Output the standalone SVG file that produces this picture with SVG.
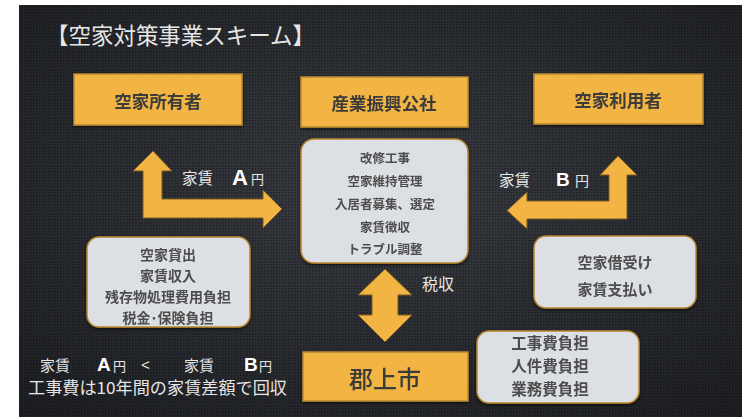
<svg xmlns="http://www.w3.org/2000/svg" width="742" height="417" viewBox="0 0 742 417">
<defs>
<radialGradient id="bg" cx="50%" cy="45%" r="70%">
<stop offset="0" stop-color="#3a3d43"/>
<stop offset="1" stop-color="#1e2024"/>
</radialGradient>
<pattern id="dots" width="3" height="3" patternUnits="userSpaceOnUse">
<rect x="0" y="0" width="1.5" height="1.5" fill="#000" fill-opacity="0.35"/>
</pattern>
<filter id="sh" x="-10%" y="-10%" width="120%" height="130%">
<feDropShadow dx="0" dy="1.5" stdDeviation="1.5" flood-color="#000" flood-opacity="0.6"/>
</filter>
</defs>
<style>
.ob{fill:#f2b443;stroke:#b98a30;stroke-width:1.5}
.gb{fill:#dcdfe3;stroke:#b8862f;stroke-width:1.5}
.ot{font-family:"Noto Sans CJK JP","Noto Sans CJK SC",sans-serif;font-weight:700;fill:#3a3a3a;text-anchor:middle;dominant-baseline:central}
.gt{font-family:"Noto Sans CJK JP","Noto Sans CJK SC",sans-serif;font-weight:700;fill:#4d4d4d;text-anchor:middle;dominant-baseline:central}
.wt{font-family:"Noto Sans CJK JP","Noto Sans CJK SC",sans-serif;fill:#e6e6e6;dominant-baseline:central}
.big{font-family:"Liberation Sans",Arial,sans-serif;font-weight:700;fill:#ffffff;dominant-baseline:central}
.arr{fill:#f2b443;stroke:#7a5a22;stroke-width:1}
</style>
<rect x="0" y="0" width="742" height="417" fill="#ffffff"/>
<rect x="19" y="5" width="723" height="412" fill="url(#bg)"/>
<rect x="19" y="5" width="723" height="412" fill="url(#dots)"/>

<text class="wt" x="46" y="34" font-size="23" textLength="269" lengthAdjust="spacingAndGlyphs">【空家対策事業スキーム】</text>

<g id="owner" filter="url(#sh)">
<rect class="ob" x="74" y="74" width="168" height="51"/>
<text class="ot" x="158" y="100" font-size="17.5">空家所有者</text>
</g>
<g id="kosha" filter="url(#sh)">
<rect class="ob" x="301" y="77" width="167" height="50"/>
<text class="ot" x="384" y="102" font-size="17.5">産業振興公社</text>
</g>
<g id="user" filter="url(#sh)">
<rect class="ob" x="534" y="74" width="169" height="50"/>
<text class="ot" x="618" y="99" font-size="17.5">空家利用者</text>
</g>

<g id="kosha-tasks" filter="url(#sh)">
<rect class="gb" x="301" y="139" width="167" height="124" rx="13"/>
<text class="gt" x="385" y="157" font-size="12.5">改修工事</text>
<text class="gt" x="385" y="180" font-size="12.5">空家維持管理</text>
<text class="gt" x="385" y="203" font-size="12.5">入居者募集、選定</text>
<text class="gt" x="385" y="226" font-size="12.5">家賃徴収</text>
<text class="gt" x="385" y="248" font-size="12.5">トラブル調整</text>
</g>

<g id="owner-tasks" filter="url(#sh)">
<rect class="gb" x="87" y="237" width="163" height="90" rx="12"/>
<text class="gt" x="168" y="254" font-size="14">空家貸出</text>
<text class="gt" x="168" y="275" font-size="14">家賃収入</text>
<text class="gt" x="168" y="296" font-size="14">残存物処理費用負担</text>
<text class="gt" x="168" y="317" font-size="14">税金･保険負担</text>
</g>

<g id="user-tasks" filter="url(#sh)">
<rect class="gb" x="534" y="236" width="162" height="72" rx="12"/>
<text class="gt" x="615" y="261" font-size="15">空家借受け</text>
<text class="gt" x="615" y="288" font-size="15">家賃支払い</text>
</g>

<g id="city-tasks" filter="url(#sh)">
<rect class="gb" x="477" y="331" width="162" height="72" rx="12"/>
<text class="gt" x="550" y="342" font-size="15.5">工事費負担</text>
<text class="gt" x="550" y="365" font-size="15.5">人件費負担</text>
<text class="gt" x="550" y="388" font-size="15.5">業務費負担</text>
</g>

<g id="city" filter="url(#sh)">
<rect class="ob" x="303" y="352" width="165" height="49"/>
<text class="ot" x="385" y="377" font-size="24" style="font-weight:500">郡上市</text>
</g>

<g id="connectors">
<path class="arr" d="M153,151 L172,171 L162,171 L162,199 L263,199 L263,190 L282,209 L263,228 L263,218 L143,218 L143,171 L133,171 Z"/>
<path class="arr" d="M618,156 L637,175 L627,175 L627,219 L527,219 L527,229 L507,210.5 L527,192 L527,201 L609,201 L609,175 L600,175 Z"/>
<path class="arr" d="M385,269 L412,295 L398,295 L398,315 L412,315 L385,342 L358,315 L372,315 L372,295 L358,295 Z"/>
<text class="wt" x="182" y="177" font-size="15.5">家賃</text>
<text class="big" x="232" y="177" font-size="22">A</text>
<text class="wt" x="251" y="178" font-size="13">円</text>
<text class="wt" x="499" y="179" font-size="15.5">家賃</text>
<text class="big" x="556" y="179" font-size="19" style="font-family:'Liberation Sans Narrow','Liberation Sans',sans-serif">B</text>
<text class="wt" x="575" y="180" font-size="14">円</text>
<text class="wt" x="422" y="283" font-size="16">税収</text>
</g>

<g id="note">
<text class="wt" x="40" y="364" font-size="15">家賃</text>
<text class="big" x="97" y="364" font-size="19">A</text>
<text class="wt" x="113" y="365" font-size="13">円</text>
<text class="big" x="141" y="364" font-size="15" style="font-weight:400;fill:#e6e6e6">&lt;</text>
<text class="wt" x="184" y="364" font-size="15">家賃</text>
<text class="big" x="244" y="364" font-size="19">B</text>
<text class="wt" x="259" y="365" font-size="13">円</text>
<text class="wt" x="28" y="387" font-size="16.5" textLength="259" lengthAdjust="spacingAndGlyphs">工事費は10年間の家賃差額で回収</text>
</g>
</svg>
